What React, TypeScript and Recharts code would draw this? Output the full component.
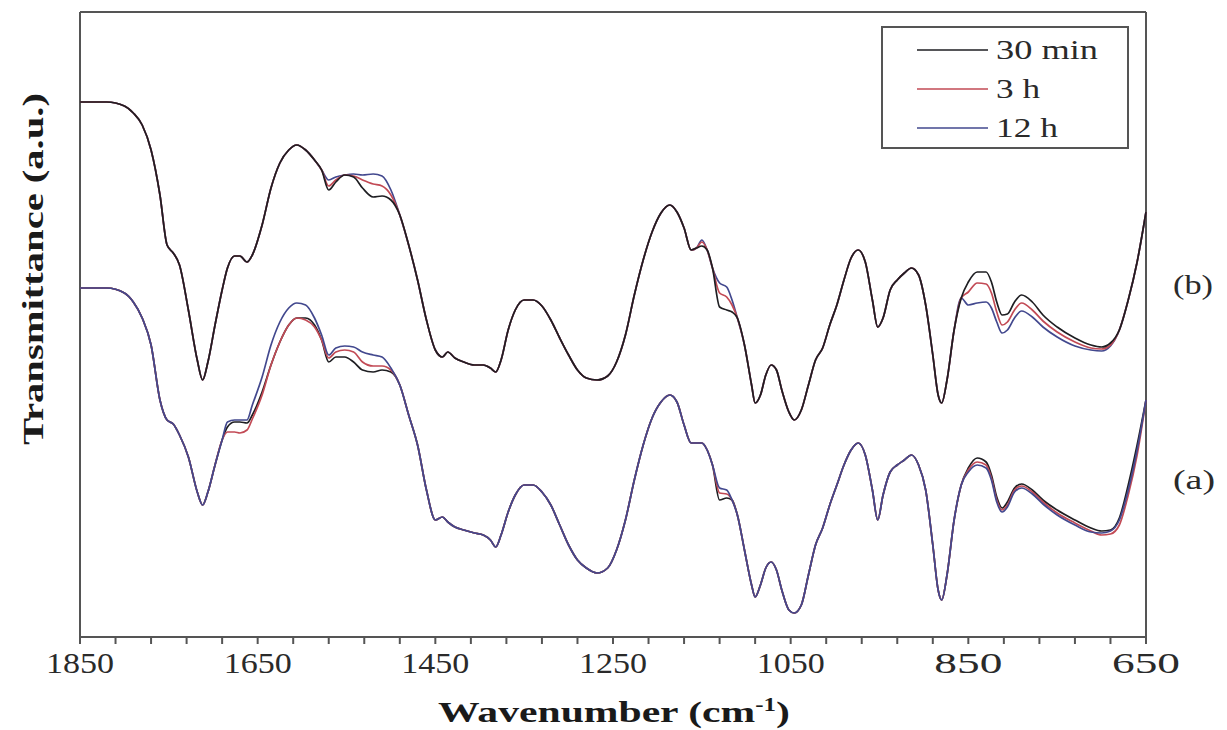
import { LineChart, Line, XAxis, YAxis, ReferenceLine } from "recharts";

// FTIR spectra, wavenumber grid shared by every curve (cm-1)
const wavenumbers = [
  1850, 1820, 1800, 1790, 1780, 1770, 1760, 1752, 1745, 1738,
  1728, 1718, 1712, 1706, 1698, 1690, 1684, 1676, 1670, 1662,
  1656, 1645, 1635, 1625, 1615, 1606, 1596, 1586, 1578, 1570,
  1562, 1552, 1542, 1532, 1520, 1510, 1500, 1490, 1480, 1470,
  1460, 1450, 1442, 1436, 1428, 1418, 1406, 1396, 1388, 1382,
  1376, 1368, 1360, 1350, 1340, 1330, 1320, 1310, 1300, 1290,
  1280, 1268, 1256, 1246, 1236, 1226, 1216, 1206, 1196, 1186,
  1178, 1170, 1162, 1156, 1150, 1144, 1138, 1130, 1122, 1116,
  1110, 1102, 1094, 1090, 1084, 1078, 1072, 1066, 1060, 1052,
  1046, 1038, 1030, 1022, 1014, 1006, 998, 990, 982, 974,
  966, 958, 952, 946, 938, 930, 922, 914, 906, 898,
  890, 884, 880, 874, 866, 858, 850, 840, 830, 824,
  818, 812, 806, 798, 790, 778, 766, 750, 730, 712,
  700, 690, 680, 670, 660, 650,
];

// (b) upper set of spectra, transmittance in arbitrary units
const b30min = [
  535, 535, 531, 524, 512, 487, 442, 392, 384, 372,
  327, 277, 257, 275, 312, 347, 369, 381, 381, 375,
  382, 412, 449, 474, 487, 492, 487, 477, 467, 447,
  455, 462, 460, 449, 440, 441, 437, 422, 392, 357,
  317, 287, 280, 285, 279, 275, 272, 272, 269, 265,
  277, 307, 327, 337, 337, 331, 317, 299, 282, 267,
  259, 257, 261, 275, 302, 342, 377, 405, 424, 432,
  425, 409, 387, 389, 391, 387, 369, 330, 327, 325,
  319, 292, 252, 234, 242, 262, 272, 267, 247, 225,
  217, 227, 252, 277, 289, 312, 332, 357, 379, 387,
  375, 337, 310, 319, 347, 357, 364, 369, 362, 332,
  282, 242, 234, 257, 307, 339, 355, 365, 365, 355,
  335, 322, 323, 335, 342, 335, 322, 310, 299, 292,
  290, 294, 307, 337, 375, 425,
];
const b3h = [
  535, 535, 531, 524, 512, 487, 442, 392, 384, 372,
  327, 277, 257, 275, 312, 347, 369, 381, 381, 375,
  382, 412, 449, 474, 487, 492, 487, 477, 467, 451,
  457, 462, 461, 457, 453, 451, 442, 422, 392, 357,
  317, 287, 280, 285, 279, 275, 272, 272, 269, 265,
  277, 307, 327, 337, 337, 331, 317, 299, 282, 267,
  259, 257, 261, 275, 302, 342, 377, 405, 424, 432,
  425, 409, 387, 389, 395, 387, 369, 344, 340, 332,
  319, 292, 252, 234, 242, 262, 272, 267, 247, 225,
  217, 227, 252, 277, 289, 312, 332, 357, 379, 387,
  375, 337, 310, 319, 347, 357, 364, 369, 362, 332,
  282, 242, 234, 257, 307, 339, 345, 354, 353, 344,
  325, 312, 315, 327, 334, 327, 316, 305, 295, 289,
  288, 292, 307, 337, 375, 425,
];
const b12h = [
  535, 535, 531, 524, 512, 487, 442, 392, 384, 372,
  327, 277, 257, 275, 312, 347, 369, 381, 381, 375,
  382, 412, 449, 474, 487, 492, 487, 477, 467, 457,
  460, 462, 463, 462, 463, 461, 447, 422, 392, 357,
  317, 287, 280, 285, 279, 275, 272, 272, 269, 265,
  277, 307, 327, 337, 337, 331, 317, 299, 282, 267,
  259, 257, 261, 275, 302, 342, 377, 405, 424, 432,
  425, 409, 387, 389, 397, 387, 369, 354, 350, 337,
  319, 292, 252, 234, 242, 262, 272, 267, 247, 225,
  217, 227, 252, 277, 289, 312, 332, 357, 379, 387,
  375, 337, 310, 319, 347, 357, 364, 369, 362, 332,
  282, 242, 234, 257, 307, 339, 332, 334, 335, 329,
  315, 304, 307, 319, 326, 320, 310, 300, 291, 287,
  286, 291, 307, 337, 375, 425,
];

// (a) lower set of spectra
const a30min = [
  349, 349, 344, 335, 319, 292, 237, 217, 213, 202,
  180, 145, 132, 145, 172, 197, 210, 215, 215, 214,
  222, 245, 272, 295, 312, 319, 319, 312, 297, 275,
  280, 280, 275, 267, 265, 267, 265, 252, 222, 192,
  147, 117, 120, 115, 110, 107, 104, 102, 97, 90,
  102, 125, 142, 152, 152, 145, 132, 112, 92, 77,
  69, 64, 69, 87, 117, 157, 192, 219, 235, 242,
  235, 212, 194, 194, 194, 187, 172, 137, 139, 137,
  122, 87, 52, 40, 52, 69, 75, 67, 47, 27,
  24, 32, 62, 92, 109, 132, 152, 172, 187, 194,
  182, 147, 117, 142, 165, 172, 177, 182, 172, 147,
  92, 47, 37, 62, 117, 152, 169, 179, 175, 162,
  140, 129, 135, 149, 153, 147, 137, 127, 117, 109,
  106, 107, 119, 152, 192, 237,
];
const a3h = [
  349, 349, 344, 335, 319, 292, 237, 217, 213, 202,
  180, 145, 132, 145, 172, 197, 205, 205, 204, 207,
  218, 242, 272, 295, 312, 319, 317, 310, 297, 279,
  285, 287, 285, 275, 271, 271, 267, 252, 222, 192,
  147, 117, 120, 115, 110, 107, 104, 102, 97, 90,
  102, 125, 142, 152, 152, 145, 132, 112, 92, 77,
  69, 64, 69, 87, 117, 157, 192, 219, 235, 242,
  235, 212, 194, 194, 194, 187, 172, 144, 143, 137,
  122, 87, 52, 40, 52, 69, 75, 67, 47, 27,
  24, 32, 62, 92, 109, 132, 152, 172, 187, 194,
  182, 147, 117, 142, 165, 172, 177, 182, 172, 147,
  92, 47, 37, 62, 117, 152, 167, 175, 172, 159,
  137, 127, 132, 147, 151, 145, 135, 124, 114, 106,
  102, 103, 112, 142, 182, 237,
];
const a12h = [
  349, 349, 344, 335, 319, 292, 237, 217, 213, 202,
  180, 145, 132, 145, 172, 197, 215, 217, 217, 217,
  232, 260, 292, 315, 329, 334, 332, 319, 302, 282,
  289, 291, 290, 285, 282, 280, 269, 252, 222, 192,
  147, 117, 120, 115, 110, 107, 104, 102, 97, 90,
  102, 125, 142, 152, 152, 145, 132, 112, 92, 77,
  69, 64, 69, 87, 117, 157, 192, 219, 235, 242,
  235, 212, 194, 194, 194, 187, 172, 149, 147, 137,
  122, 87, 52, 40, 52, 69, 75, 67, 47, 27,
  24, 32, 62, 92, 109, 132, 152, 172, 187, 194,
  182, 147, 117, 142, 165, 172, 177, 182, 172, 147,
  92, 47, 37, 62, 117, 152, 165, 172, 169, 157,
  135, 125, 130, 145, 149, 143, 133, 122, 112, 105,
  104, 106, 117, 147, 187, 237,
];

const xTicks = [
  1850, 1810, 1770, 1730, 1690, 1650, 1610, 1570, 1530, 1490, 1450,
  1410, 1370, 1330, 1290, 1250, 1210, 1170, 1130, 1090, 1050,
  1010, 970, 930, 890, 850, 810, 770, 730, 690, 650,
];
const xLabels = [1850, 1650, 1450, 1250, 1050, 850, 650];

const seriesNames = ["30 min", "3 h", "12 h"];
const seriesColors = ["#1e1e22", "#c24a55", "#42488e"];

const data = wavenumbers.map((wn, i) => ({
  wn,
  b30: b30min[i],
  b3: b3h[i],
  b12: b12h[i],
  a30: a30min[i],
  a3: a3h[i],
  a12: a12h[i],
}));

const serif = "'Liberation Serif', 'Times New Roman', serif";
const frame = "#555";

function WnTick(props: any) {
  const { x, y, payload } = props;
  if (!xLabels.includes(payload.value)) return <g />;
  return (
    <text
      x={x}
      y={y}
      dy={27}
      textAnchor="middle"
      fontFamily={serif}
      fontSize={30}
      fill="#2a2a2a"
      textLength={68}
      lengthAdjust="spacingAndGlyphs"
    >
      {payload.value}
    </text>
  );
}

function Overlay() {
  return (
    <svg
      width={1227}
      height={730}
      style={{ position: "absolute", left: 0, top: 0, pointerEvents: "none" }}
    >
      {/* legend */}
      <rect x={882} y={27} width={246} height={121} fill="#fff" stroke={frame} strokeWidth={2} />
      {seriesNames.map((name, i) => (
        <g key={name}>
          <line x1={917} x2={988} y1={50 + i * 39} y2={50 + i * 39} stroke={seriesColors[i]} strokeWidth={1.6} />
          <text
            x={996}
            y={59 + i * 39}
            fontFamily={serif}
            fontSize={27}
            fill="#2a2a2a"
            textLength={name === "30 min" ? 102 : name === "3 h" ? 44 : 62}
            lengthAdjust="spacingAndGlyphs"
          >
            {name}
          </text>
        </g>
      ))}
      <text x={1173} y={294} fontFamily={serif} fontSize={27} fill="#2a2a2a" textLength={40} lengthAdjust="spacingAndGlyphs">
        (b)
      </text>
      <text x={1173} y={489} fontFamily={serif} fontSize={27} fill="#2a2a2a" textLength={42} lengthAdjust="spacingAndGlyphs">
        (a)
      </text>
      <text
        x={614}
        y={722}
        textAnchor="middle"
        fontFamily={serif}
        fontWeight="bold"
        fontSize={30}
        fill="#1a1a1a"
        textLength={352}
        lengthAdjust="spacingAndGlyphs"
      >
        Wavenumber (cm
        <tspan fontSize={18} dy={-11}>-1</tspan>
        <tspan dy={11}>)</tspan>
      </text>
      <text
        x={0}
        y={0}
        transform="translate(43 269) rotate(-90)"
        textAnchor="middle"
        fontFamily={serif}
        fontWeight="bold"
        fontSize={30}
        fill="#1a1a1a"
        textLength={352}
        lengthAdjust="spacingAndGlyphs"
      >
        Transmittance (a.u.)
      </text>
    </svg>
  );
}

export default function App() {
  return (
    <div style={{ position: "absolute", left: 0, top: 0, width: 1227, height: 730, background: "#fff" }}>
      <LineChart
        width={1227}
        height={730}
        data={data}
        margin={{ top: 12, right: 81, bottom: 63, left: 80 }}
      >
        <XAxis
          dataKey="wn"
          type="number"
          domain={[650, 1850]}
          reversed
          ticks={xTicks}
          interval={0}
          tick={<WnTick />}
          tickSize={7}
          tickLine={{ stroke: frame, strokeWidth: 2 }}
          axisLine={{ stroke: frame, strokeWidth: 2 }}
          height={30}
        />
        <YAxis hide domain={[0, 625]} />
        <ReferenceLine x={1850} stroke={frame} strokeWidth={2} />
        <ReferenceLine x={650} stroke={frame} strokeWidth={2} />
        <ReferenceLine y={625} stroke={frame} strokeWidth={2} />
        <Line dataKey="b12" type="monotone" stroke={seriesColors[2]} strokeWidth={1.7} dot={false} isAnimationActive={false} />
        <Line dataKey="b3" type="monotone" stroke={seriesColors[1]} strokeWidth={1.7} dot={false} isAnimationActive={false} />
        <Line dataKey="b30" type="monotone" stroke={seriesColors[0]} strokeWidth={1.7} dot={false} isAnimationActive={false} />
        <Line dataKey="a30" type="monotone" stroke={seriesColors[0]} strokeWidth={1.7} dot={false} isAnimationActive={false} />
        <Line dataKey="a3" type="monotone" stroke={seriesColors[1]} strokeWidth={1.7} dot={false} isAnimationActive={false} />
        <Line dataKey="a12" type="monotone" stroke={seriesColors[2]} strokeWidth={1.7} dot={false} isAnimationActive={false} />
      </LineChart>
      <Overlay />
    </div>
  );
}
